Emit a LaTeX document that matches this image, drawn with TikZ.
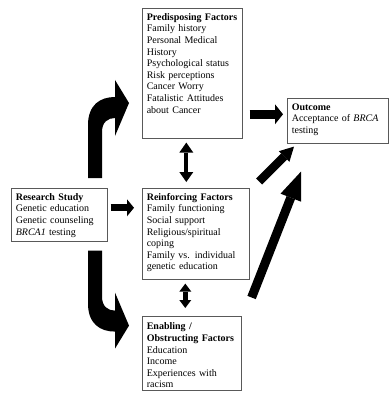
\documentclass[tikz,border=0pt]{standalone}
\usepackage{fontspec}
\setmainfont{Liberation Serif}
\usetikzlibrary{arrows.meta, positioning, calc}

\tikzset{
  factor/.style={draw=black!65, line width=0.6pt, anchor=north west, align=left,
    inner xsep=4.5pt, inner ysep=5pt, text height=7pt,
    font=\fontsize{10}{11.6}\selectfont},
  block/.style n args={3}{line width=#1, -{Triangle[width=#2, length=#3, line width=0pt]}},
  dblock/.style n args={3}{line width=#1,
    {Triangle[width=#2, length=#3, line width=0pt]}-{Triangle[width=#2, length=#3, line width=0pt]}},
  bentarrow/.pic={
    \fill (0,0) -- (0,-53) .. controls (0,-73) and (12,-81) .. (27,-81)
      -- (27,-98) -- (41,-75) -- (27,-42) -- (27,-60)
      .. controls (20,-60) and (14,-56) .. (14,-46) -- (14,0) -- cycle;
  }
}

\begin{document}
\begin{tikzpicture}[x=1pt, y=-1pt]
    \useasboundingbox (0,0) rectangle (388,393);

    % boxes
    \node[factor, text width=91pt, text depth=113pt] (pred) at (142,8)
        {\textbf{Predisposing Factors}\\Family history\\Personal Medical\\History\\
         Psychological status\\Risk perceptions\\Cancer Worry\\Fatalistic Attitudes\\about Cancer};
    \node[factor, text width=91.5pt, text depth=28pt] (outc) at (287,98)
        {\textbf{Outcome}\\Acceptance of \textit{BRCA}\\testing};
    \node[factor, text width=87pt, text depth=36pt] (study) at (11,188)
        {\textbf{Research Study}\\Genetic education\\Genetic counseling\\\textit{BRCA1} testing};
    \node[factor, text width=98pt, text depth=74pt] (reinf) at (142,188)
        {\textbf{Reinforcing Factors}\\Family functioning\\Social support\\Religious/spiritual\\
         coping\\Family vs. individual\\genetic education};
    \node[factor, text width=90pt, text depth=54pt, inner ysep=6.5pt] (enab) at (142,316)
        {\textbf{Enabling /}\\\textbf{Obstructing Factors}\\Education\\Income\\Experiences with\\racism};

    % bent arrows
    \pic at ([shift={(77,-10)}]study.north west) {bentarrow};
    \pic[yscale=-1] at ([shift={(77,9)}]study.south west) {bentarrow};

    % straight arrows
    \draw[block={7pt}{17pt}{7pt}] ([shift={(3,-7)}]study.east) -- ([shift={(-8,-26)}]reinf.west);
    \draw[block={9pt}{20pt}{8pt}] ([shift={(7,41)}]pred.east) -- ([shift={(-4,-6.5)}]outc.west);
    \draw[dblock={4pt}{14pt}{10pt}] ([shift={(-6,4)}]pred.south) -- ([shift={(-9.5,-6)}]reinf.north);
    \draw[dblock={5pt}{12pt}{8pt}] ([shift={(-10.5,4)}]reinf.south) -- ([shift={(-6.5,-8)}]enab.north);
    \draw[block={8.5pt}{15pt}{14pt}] ([shift={(9.5,-6.5)}]reinf.north east) -- ([shift={(7,3)}]outc.south west);
    \draw[block={9pt}{22pt}{28pt}] ([shift={(10,-18.5)}]enab.north east) -- ([shift={(14,28)}]outc.south west);
\end{tikzpicture}
\end{document}
